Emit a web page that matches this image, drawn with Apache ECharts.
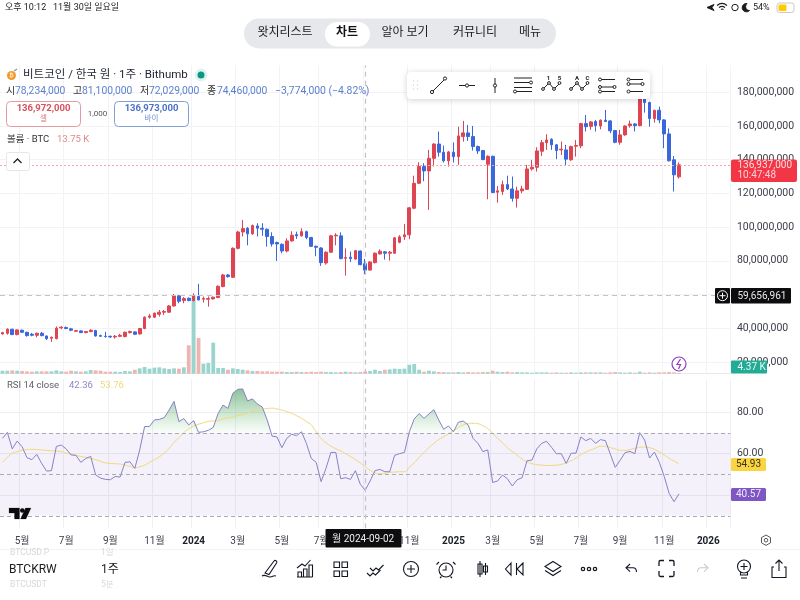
<!DOCTYPE html>
<html>
<head>
<meta charset="utf-8">
<title>BTCKRW</title>
<script src="https://cdn.jsdelivr.net/npm/echarts@6/dist/echarts.min.js"></script>
<style>
html,body{margin:0;padding:0;background:#fff;}
#main{width:800px;height:600px;}
</style>
</head>
<body>
<div id="main"></div>
<script>
// weekly candles, prices in million KRW
var openP = [
36.6,37.0,39.4,36.2,38.8,37.6,36.4,35.8,37.0,35.4,
34.0,33.8,40.2,40.4,39.6,38.2,38.4,37.4,38.0,38.6,
35.6,35.2,35.2,34.8,35.2,35.0,37.4,37.8,36.6,39.8,
46.5,46.5,48.3,49.5,49.5,53.2,59.2,56.4,57.8,56.4,
58.9,57.2,57.2,57.4,58.2,64.7,71.6,70.2,87.4,97.1,
99.3,96.0,100.7,99.3,98.7,94.4,90.8,89.8,85.8,91.8,
95.6,94.8,97.3,93.8,88.6,87.6,78.7,85.1,94.8,94.8,
81.5,82.1,81.0,85.8,78.234,74.5,78.9,84.1,85.3,84.5,
84.5,91.0,94.2,95.4,111.2,126.0,135.9,133.3,140.8,149.3,
144.4,139.3,144.4,141.8,153.7,155.9,153.7,147.8,145.4,137.3,
142.0,120.7,121.1,125.2,122.6,117.1,121.5,122.4,134.5,135.5,
145.0,150.1,152.1,148.8,145.8,145.8,139.9,148.0,148.2,161.4,
159.8,162.6,160.0,163.4,163.0,157.3,150.3,154.7,160.2,161.2,
160.2,179.4,173.9,164.4,169.3,163.6,155.3,139.9,129.8];
var closeP = [
37.4,39.4,36.2,39.0,37.6,35.6,35.8,37.0,35.6,33.8,
34.6,40.0,40.6,39.8,38.8,38.6,37.4,38.0,38.8,35.4,
35.2,35.0,34.8,35.2,35.8,37.6,38.0,36.4,39.8,46.5,
47.3,48.9,49.5,49.9,53.2,59.2,56.0,57.6,56.4,59.2,
56.8,57.6,57.6,58.4,64.9,71.6,70.6,87.4,97.1,99.1,
96.0,100.9,99.3,98.7,94.4,90.0,90.0,85.8,91.8,95.2,
94.8,97.3,93.8,88.6,88.0,78.9,85.1,94.8,95.2,81.3,
81.9,81.3,86.0,77.7,74.46,79.3,84.5,85.7,84.5,85.1,
93.6,94.2,95.4,111.4,126.0,135.9,133.3,140.8,149.3,144.4,
139.3,144.6,141.8,154.1,155.9,153.7,147.8,145.2,140.0,142.0,
120.5,121.5,125.2,122.6,117.1,121.5,122.6,134.5,135.5,145.2,
150.1,151.7,148.8,145.4,146.2,140.3,147.8,148.4,161.4,159.6,
162.4,160.2,163.4,162.6,157.1,150.3,154.7,160.0,161.2,160.2,
181.4,173.9,164.4,169.3,163.6,155.3,139.3,131.0,136.937];
var lowP = [
36.2,36.2,36.0,35.8,37.2,35.0,35.2,34.6,35.2,33.0,
31.9,33.4,39.4,39.4,38.2,37.9,37.1,37.0,37.6,35.0,
34.9,34.4,34.3,33.8,34.8,34.6,36.8,36.0,36.2,39.4,
45.7,46.0,46.9,47.9,49.1,52.8,54.8,54.8,56.0,55.8,
56.4,55.2,52.8,57.0,57.8,64.3,70.0,69.8,86.8,94.4,
89.2,95.4,94.4,94.8,88.4,88.4,79.9,84.4,85.0,91.3,
93.0,94.4,92.8,88.2,82.7,77.0,77.7,84.6,89.2,80.9,
71.2,79.3,80.6,77.3,72.029,74.2,78.5,83.7,80.7,80.1,
84.1,90.4,92.4,92.8,110.6,125.5,127.2,110.2,135.9,141.8,
138.3,135.9,138.3,136.9,150.7,151.1,145.4,143.4,139.8,116.5,
120.1,114.5,119.1,122.0,115.1,111.6,120.1,122.0,133.5,132.9,
142.2,145.8,145.8,140.3,142.8,136.9,139.3,141.8,146.8,156.7,
157.7,156.7,158.0,162.4,155.7,149.7,148.8,154.2,159.0,156.7,
159.8,167.9,159.6,162.0,161.6,146.8,138.9,121.1,128.8];
var highP = [
37.8,39.9,39.6,39.3,39.2,37.8,37.2,37.4,37.8,35.6,
35.0,41.0,41.2,41.0,40.2,38.9,38.7,38.3,39.4,39.0,
36.2,37.8,35.6,36.0,36.6,38.0,38.6,38.2,40.2,47.0,
48.5,49.3,50.8,50.8,53.8,60.3,59.6,58.4,58.2,60.7,
66.3,58.8,58.8,58.8,65.4,72.2,72.2,88.0,97.8,104.2,
100.0,101.5,102.3,102.3,99.2,96.9,91.4,90.3,93.4,97.5,
97.3,99.3,97.9,94.2,89.0,88.1,85.6,95.4,96.3,96.9,
87.4,85.5,86.4,86.2,81.1,79.8,85.0,86.8,85.7,85.8,
94.1,95.2,101.9,112.0,130.5,138.5,137.9,145.8,149.7,156.7,
148.4,145.2,150.3,159.6,163.0,160.6,160.0,148.4,145.8,142.6,
142.4,124.4,127.6,130.5,130.0,124.0,124.4,136.9,139.9,147.4,
151.7,155.1,152.7,149.2,150.7,148.8,148.3,151.7,161.9,166.5,
162.9,163.6,163.9,169.5,163.5,157.7,157.7,160.4,163.2,161.6,
182.5,180.0,174.4,169.6,171.5,164.0,158.6,142.2,138.3];
// volume, thousand BTC
var volumeK = [
18,18,20,18,16,14,12,14,14,14,
14,20,14,12,18,14,12,14,22,20,
18,12,12,12,10,16,14,24,32,40,
30,36,38,32,28,32,30,38,170,470,
214,60,64,186,34,34,24,32,28,24,
20,16,16,14,14,12,12,12,10,10,
12,10,10,12,10,12,10,10,8,10,
12,10,8,10,13.75,16,24,16,24,26,
30,28,30,54,58,24,12,18,14,10,
10,8,8,10,8,10,8,8,10,10,
18,12,10,12,8,10,8,8,6,8,
8,8,6,8,6,6,8,6,8,8,
8,8,8,6,8,10,8,6,8,6,
12,6,8,6,8,8,10,8,4.37];
var rsiValues = [
67.4,70.3,62.3,66.1,63.4,58.1,57.1,59.7,55.3,51.6,
51.8,63.5,64.2,62.3,59.4,59.2,55.8,57.7,58.7,49.8,
48.2,47.6,47.4,49.0,48.7,55.8,56.1,52.9,61.8,73.1,
73.2,76.3,76.6,77.4,81.1,85.3,75.5,77.0,73.9,76.0,
70.3,70.6,71.3,72.7,79.5,83.5,81.9,89.2,91.1,91.3,
85.5,86.5,84.0,82.6,76.3,68.5,68.1,62.9,67.4,69.4,
68.7,70.6,65.0,57.7,55.8,46.5,52.9,60.6,60.6,47.9,
48.4,47.6,51.8,45.2,42.36,46.8,51.8,52.4,51.3,51.3,
59.2,60.0,60.6,70.6,76.8,79.4,77.1,79.2,81.3,76.3,
71.8,73.4,70.6,75.2,75.8,73.9,67.4,65.0,61.0,61.8,
46.1,46.8,49.7,47.9,44.4,47.4,48.4,56.6,56.9,62.3,
65.0,66.0,63.1,60.0,60.0,55.3,60.2,60.3,68.1,66.3,
67.4,65.0,66.8,66.3,59.8,53.4,56.8,60.5,61.1,60.0,
70.2,66.6,57.9,60.8,55.8,49.0,40.8,36.8,40.57];
var rsiMaValues = [
55.8,58.2,60.2,61.0,61.6,62.0,62.1,62.0,61.8,61.6,
61.4,61.3,61.0,60.3,59.8,59.2,58.7,58.2,57.7,57.1,
56.3,55.6,55.3,55.2,55.0,54.5,53.9,53.2,53.7,54.5,
55.8,57.1,58.5,60.3,62.6,65.5,67.7,70.2,71.9,73.4,
74.2,75.0,75.6,75.8,76.1,76.8,77.3,77.7,78.4,79.0,
79.7,80.5,81.0,81.5,81.8,82.0,81.6,81.1,80.3,79.5,
78.4,77.1,75.5,73.9,70.6,67.4,65.3,63.7,62.4,61.3,
60.0,58.7,57.1,55.5,53.76,52.0,50.8,50.3,50.5,51.0,
51.1,51.3,51.3,53.4,55.6,58.2,60.6,62.9,65.0,66.8,
68.2,69.7,71.1,72.6,73.9,74.5,74.7,74.5,73.5,72.1,
69.8,67.4,65.3,62.9,61.1,59.2,57.4,56.1,55.2,54.7,
54.5,54.3,54.3,54.5,54.8,55.6,56.6,57.9,59.5,60.8,
61.8,62.7,63.6,63.6,62.9,62.3,61.6,61.6,62.0,62.6,
63.1,63.2,62.9,62.1,60.8,59.4,57.7,56.5,54.93];

var priceTicks = [20,40,60,80,100,120,140,160,180];
var rsiTicks = [40,60,80];
var rsiLevels = [70,50,30];
var lastPrice = 136.937;
var crossPrice = 59.656961;
var crossDate = '2024-09-02';
var tickDates = ['2023-05-01','2023-07-03','2023-09-04','2023-11-06','2024-01-01','2024-03-04','2024-05-06','2024-07-01','2024-09-02','2024-11-04','2025-01-06','2025-03-03','2025-05-05','2025-07-07','2025-09-01','2025-11-03','2026-01-05'];
var tickLabels = ['5월','7월','9월','11월','2024','3월','5월','7월','9월','11월','2025','3월','5월','7월','9월','11월','2026'];

// week axis, runs on past the last candle
var weeks = [];
for (var w = 0; w < 149; w++) {
	weeks.push(new Date(Date.UTC(2023, 3, 3 + w * 7)).toISOString().slice(0, 10));
}

var FONT = 'Roboto, "Noto Sans CJK KR", sans-serif';
var UP = '#de4452', DOWN = '#3a68dc';
var GRID_LEFT = -2.66, GRID_W = 733.08;

var candleData = openP.map(function (o, i) { return [o, closeP[i], lowP[i], highP[i]]; });
var volumeData = volumeK.map(function (v, i) {
	return { value: v, itemStyle: { color: closeP[i] >= openP[i] ? '#9ad5cd' : '#f0b4b0' } };
});
var overbought = rsiValues.map(function (v) { return Math.max(v, 70); });

function isTick(index, value) { return tickDates.indexOf(value) >= 0; }

function dashLine(color, width, dash) {
	return { color: color, width: width, type: dash };
}

// ---- overlay helpers ----
var g = [];
var iconCount = 0;
function T(x, y, text, size, color, extra) {
	var st = { text: text, fontSize: size, fill: color, fontFamily: FONT, align: 'left', verticalAlign: 'middle' };
	for (var k in (extra || {})) st[k] = extra[k];
	g.push({ type: 'text', x: x, y: y, z: 120, silent: true, style: st });
}
function R(x, y, w, h, r, fill, stroke, z, extra) {
	var st = { fill: fill, stroke: stroke || null, lineWidth: 1 };
	for (var k in (extra || {})) st[k] = extra[k];
	g.push({ type: 'rect', z: z || 110, silent: true, shape: { x: x, y: y, width: w, height: h, r: r }, style: st });
}
// graphic has no plain path type, so each icon gets its own registered shape
function P(d, stroke, lw, fill) {
	var name = 'icon' + (iconCount++);
	echarts.graphic.registerShape(name, echarts.graphic.extendPath(d, {}));
	g.push({ type: name, z: 120, silent: true, style: { fill: fill || 'none', stroke: stroke || '#131722', lineWidth: lw || 1.1 } });
}
function C(x, y, r, fill, stroke, lw) {
	g.push({ type: 'circle', z: 120, silent: true, shape: { cx: x, cy: y, r: r }, style: { fill: fill, stroke: stroke || null, lineWidth: lw || 1 } });
}

// status bar
T(5, 7.5, '오후 10:12', 9, '#1c1c1e');
T(53, 7.5, '11월 30일 일요일', 9, '#1c1c1e');
P('M707 7.5l7-3-2 3 2 3z', '#1c1c1e', 1, '#1c1c1e');
P('M717 5.5c3-2.5 7-2.5 10 0M719 7.5c2-1.5 4-1.5 6 0M721 9.5c1-.8 1.5-.8 2.5 0', '#1c1c1e', 1.2);
C(735, 7.5, 3.2, 'none', '#1c1c1e', 1);
P('M747 3.5a4.2 4.2 0 1 0 2.5 7 4 4 0 0 1-2.5-7z', '#1c1c1e', 1, '#1c1c1e');
T(753, 7.5, '54%', 9, '#1c1c1e');
R(777, 3, 17, 9.5, 2.5, 'none', '#c9c9c9', 120);
R(778.5, 4.5, 8, 6.5, 1.2, '#ffcc00', null, 121);

// top nav pill
R(244, 18.5, 312, 30, 15, '#e6e8eb', null, 105);
R(325, 22, 45, 24.5, 12, '#ffffff', null, 106);
T(285, 33, '왓치리스트', 12, '#1c1c1e', { align: 'center' });
T(347, 33, '차트', 12, '#111', { align: 'center', fontWeight: 'bold' });
T(405, 33, '알아 보기', 12, '#1c1c1e', { align: 'center' });
T(475, 33, '커뮤니티', 12, '#1c1c1e', { align: 'center' });
T(530, 33, '메뉴', 12, '#1c1c1e', { align: 'center' });

// symbol legend
C(11.5, 75.5, 4.5, '#f39a2b');
T(11.5, 75.5, '₿', 6, '#fff', { align: 'center' });
P('M14 71l3-2', '#8a8f9c', 1.2);
T(23, 75, '비트코인 / 한국 원 · 1주 · Bithumb', 11.5, '#1f2330');
C(201, 75, 6.5, '#dff3ef');
C(201, 75, 3.5, '#089981');
var OHLC_BLUE = '#5b7fd0';
T(6, 91.5, '시', 10, '#333');
T(15, 91.5, '78,234,000', 10.3, OHLC_BLUE);
T(73, 91.5, '고', 10, '#333');
T(82, 91.5, '81,100,000', 10.3, OHLC_BLUE);
T(140, 91.5, '저', 10, '#333');
T(149, 91.5, '72,029,000', 10.3, OHLC_BLUE);
T(207, 91.5, '종', 10, '#333');
T(217, 91.5, '74,460,000', 10.3, OHLC_BLUE);
T(275, 91.5, '−3,774,000 (−4.82%)', 10.4, OHLC_BLUE);
R(6.5, 101.5, 74, 25, 4, '#fff', '#e59aa2');
T(43.5, 108.5, '136,972,000', 9.5, '#d9505c', { align: 'center', fontWeight: 'bold' });
T(43.5, 119.5, '셀', 7.5, '#e0737c', { align: 'center' });
T(97.5, 114, '1,000', 8, '#555', { align: 'center' });
R(114.5, 101.5, 74, 25, 4, '#fff', '#7f9fd6');
T(151.5, 108.5, '136,973,000', 9.5, '#4a72c8', { align: 'center', fontWeight: 'bold' });
T(151.5, 119.5, '바이', 7.5, '#6f92d4', { align: 'center' });
T(7, 139.5, '볼륨 · BTC', 9.5, '#333');
T(57, 139.5, '13.75 K', 9.5, '#e08a8a');
R(6.5, 152.5, 23, 18, 2, '#fff', '#e4e6ea');
P('M13.5 163l4-4 4 4', '#222', 1.3);

// drawing toolbar
R(407, 72, 243, 27, 4, '#ffffff', null, 115, { shadowBlur: 6, shadowColor: 'rgba(0,0,0,.18)', shadowOffsetY: 1 });
P('M413 81h.6M417 81h.6M413 85h.6M417 85h.6M413 89h.6M417 89h.6', '#9aa0ac', 1);
P('M433 91l11-11', '#222', 1);
C(432, 92, 1.6, '#fff', '#222'); C(445, 78.5, 1.6, '#fff', '#222');
P('M459 85.5h16', '#222', 1);
C(467, 85.5, 1.6, '#fff', '#222');
P('M495 78v15', '#222', 1);
C(495, 85.5, 1.6, '#fff', '#222');
P('M514 78h18M514 82.5h15M514 87.5h18M516 91.5h16', '#222', 1);
C(531, 82.5, 1.5, '#fff', '#222'); C(515, 91.5, 1.5, '#fff', '#222');
P('M543 89l6-6 5 6 6-6', '#222', 1);
C(543, 89, 1.4, '#fff', '#222'); C(549, 83, 1.4, '#fff', '#222'); C(554, 89, 1.4, '#fff', '#222'); C(559.5, 83, 1.4, '#fff', '#222');
T(548.5, 78, '1', 6, '#222', { align: 'center', fontWeight: 'bold' });
T(559.5, 78, '5', 6, '#222', { align: 'center', fontWeight: 'bold' });
P('M571 89l6-6 5 6 6-6', '#222', 1);
C(571, 89, 1.4, '#fff', '#222'); C(577, 83, 1.4, '#fff', '#222'); C(582, 89, 1.4, '#fff', '#222'); C(587.5, 83, 1.4, '#fff', '#222');
T(577, 78, 'A', 6, '#222', { align: 'center', fontWeight: 'bold' });
T(587.5, 78, 'C', 6, '#222', { align: 'center', fontWeight: 'bold' });
P('M600 79.5h15M600 87h15M600 91.5h15', '#222', 1);
C(600, 79.5, 1.5, '#fff', '#222'); C(600, 87, 1.5, '#fff', '#222'); C(600, 91.5, 1.5, '#fff', '#222'); C(614.5, 87, 1.5, '#fff', '#222');
P('M629 79.5h14M629 84h14M629 91.5h14', '#222', 1);
C(628.5, 79.5, 1.5, '#fff', '#222'); C(628.5, 84, 1.5, '#fff', '#222'); C(628.5, 91.5, 1.5, '#fff', '#222'); C(642.5, 84, 1.5, '#fff', '#222');

// price tags
R(731, 159.5, 66, 22.5, 2, '#f23645');
T(737.5, 165.5, '136,937,000', 10, '#ffdfe2');
T(737.5, 175.5, '10:47:48', 10, '#ffd0d4');
R(715, 288, 15, 15.5, 1, '#0d0d0f');
P('M727.5 295.7a5 5 0 1 1-10 0a5 5 0 1 1 10 0M722.5 292.7v6M719.5 295.7h6', '#fff', 1);
R(731, 288, 60, 15.5, 1, '#0d0d0f');
T(737.5, 296, '59,656,961', 10, '#e8e8e8');
C(679, 364, 7, '#fff', '#8e3fbf', 1.2);
P('M680.5 359l-3.5 5.5h3.5l-2 4.5', '#8e3fbf', 1.2);
R(731, 360.5, 36, 13, 1, '#23ab95');
T(737.5, 367.2, '4.37 K', 10, '#e9fbf7');
T(7, 386, 'RSI 14 close', 9.5, '#5d606b');
T(69, 386, '42.36', 9.5, '#8a86c8');
T(100, 386, '53.76', 9.5, '#efd97c');
R(731, 458, 35, 13, 1.5, '#fbd441');
T(748.5, 464.7, '54.93', 10, '#3a3216', { align: 'center' });
R(731, 488, 35, 13, 1.5, '#7e57c2');
T(748.5, 494.7, '40.57', 10, '#f0eafc', { align: 'center' });

// tv logo
P('M9 508h10.5v11h-5v-6h-5.5z', '#0b0b0d', 0.2, '#0b0b0d');
C(22.3, 510.5, 2.3, '#0b0b0d');
P('M25.5 508h5.5l-5 11h-5.5z', '#0b0b0d', 0.2, '#0b0b0d');

// crosshair date + time settings
R(325.5, 529, 76, 18.5, 1, '#0d0d0f');
T(332, 539, '월 2024-09-02', 10, '#eeeeee');
P('M766 535l4.5 2.6v5.2l-4.5 2.6-4.5-2.6v-5.2z', '#444', 0.9);
C(766, 540.2, 1.8, 'none', '#444', 0.9);
P('M0 549.5h800', '#eef0f3', 0.8);

// bottom bar
T(10, 553, 'BTCUSD.P', 8.5, '#d6d8dc');
T(101, 553, '1일', 8.5, '#d6d8dc');
T(9, 569.5, 'BTCKRW', 12, '#1c1c1e');
T(101, 569.5, '1주', 12, '#1c1c1e');
T(10, 585, 'BTCUSDT', 8.5, '#d6d8dc');
T(101, 585, '5분', 8.5, '#d6d8dc');
P('M262 576c3-2 5 1 8 1s3-2 6-1M265 573l9-12c1-1.5 3.5.2 2.7 1.7l-7.7 11.8z');
P('M298 577v-5h3.5v5M303.5 577v-8h3.5v8M309 577v-12h3.5v12M297 577h15.5M297 568l5-4 3 2 5.5-6');
P('M334 562h5.5v5.5h-5.5zM342 562h5.5v5.5h-5.5zM334 571h5.5v5.5h-5.5zM342 571h5.5v5.5h-5.5z');
P('M367 573l3 3 3-3 2.5 2 3-3 2-2M370 568l3 3 3-3 2.5 2 3-3 2-2');
P('M418.5 569a7.5 7.5 0 1 1-15 0a7.5 7.5 0 1 1 15 0M411 565v8M407 569h8');
P('M453 570a7 7 0 1 1-14 0a7 7 0 1 1 14 0M446 565.5v4.5h-3.5M439 562l-2.5 2.5M453 562l2.5 2.5M441.5 576.5l-1.5 1.5M450.5 576.5l1.5 1.5');
P('M480 561v16M478 564h4v10h-4zM485.5 563v12M483.5 566h4v6h-4z');
P('M511 563l-5.5 6 5.5 6zM523 563l-6 6 6 6zM516.5 563v12', '#131722', 1.1);
P('M553 561.5l8 5-8 5-8-5zM545 570.5l8 5 8-5');
C(583, 569, 1.7, 'none', '#131722', 1.2); C(589, 569, 1.7, 'none', '#131722', 1.2); C(595, 569, 1.7, 'none', '#131722', 1.2);
P('M630 564l-4 3.8 4 3.8M626 567.8h7c2 0 3.5 1.5 3.5 4.2');
P('M659 566v-4c0-1 1-1.5 1.5-1.5h3.5M669 560.5h3.5c1 0 1.5.5 1.5 1.5v4M674 571v4c0 1-.5 1.5-1.5 1.5h-3.5M664 576.5h-3.5c-.5 0-1.5-.5-1.5-1.5v-4', '#131722', 1.3);
P('M704 564l4 3.8-4 3.8M708 567.8h-7c-2 0-3.5 1.5-3.5 4.2', '#c8cbd0');
P('M750.5 566.5a6.5 6.5 0 1 1-13 0a6.5 6.5 0 0 1 13 0M744 563v7M740.5 566.5h7M740.5 572v3h7v-3M741 578h6');
P('M774 567h-2v10.5h14v-10.5h-2M779 571v-11M775.5 563.5l3.5-3.5 3.5 3.5');

// ---- chart ----
var ChartMain = echarts.init(document.getElementById('main'));
ChartMain.setOption({
	animation: false,
	backgroundColor: '#ffffff',
	textStyle: { fontFamily: FONT },
	grid: [
		{ left: GRID_LEFT, width: GRID_W, top: 65.3, height: 308.4 },
		{ left: GRID_LEFT, width: GRID_W, top: 200, height: 173.7 },
		{ left: GRID_LEFT, width: GRID_W, top: 379.2, height: 149 }
	],
	xAxis: [
		{
			type: 'category', gridIndex: 0, data: weeks, boundaryGap: true,
			axisLine: { lineStyle: { color: '#e6e8ec' } }, axisTick: { show: false }, axisLabel: { show: false },
			splitLine: { show: true, interval: isTick, lineStyle: { color: '#f2f3f6' } }
		},
		{
			type: 'category', gridIndex: 1, data: weeks, boundaryGap: true,
			axisLine: { show: false }, axisTick: { show: false }, axisLabel: { show: false }, splitLine: { show: false }
		},
		{
			type: 'category', gridIndex: 2, data: weeks, boundaryGap: true,
			axisLine: { show: false }, axisTick: { show: false },
			splitLine: { show: true, interval: isTick, lineStyle: { color: '#eef0f4' } },
			axisLabel: {
				show: true, interval: isTick, margin: 8.5, hideOverlap: false,
				formatter: function (value) {
					var label = tickLabels[tickDates.indexOf(value)];
					return label.length === 4 ? '{year|' + label + '}' : '{month|' + label + '}';
				},
				rich: {
					year: { fontSize: 10, fontWeight: 'bold', color: '#1c1f28', fontFamily: FONT },
					month: { fontSize: 10, color: '#3c3f4a', fontFamily: FONT }
				}
			}
		}
	],
	yAxis: [
		{
			type: 'value', gridIndex: 0, position: 'right', min: 13, max: 196, scale: true,
			axisLine: { show: false },
			axisTick: { show: false, customValues: priceTicks },
			splitLine: { show: true, lineStyle: { color: '#f2f3f6' } },
			axisLabel: {
				customValues: priceTicks, margin: 6.5, fontSize: 10.5, color: '#3a3d47', align: 'left', fontFamily: FONT,
				formatter: function (v) { return v + ',000,000'; }
			}
		},
		{
			type: 'value', gridIndex: 1, min: 0, max: 1040, show: false, splitLine: { show: false }
		},
		{
			type: 'value', gridIndex: 2, position: 'right', min: 24, max: 96,
			axisLine: { show: false },
			axisTick: { show: false, customValues: rsiTicks },
			splitLine: { show: true, lineStyle: { color: '#eceef2' } },
			axisLabel: {
				customValues: rsiTicks, margin: 6.5, fontSize: 10.5, color: '#3a3d47', align: 'left', fontFamily: FONT,
				formatter: function (v) { return v.toFixed(2); }
			}
		}
	],
	series: [
		{
			name: '볼륨', type: 'bar', xAxisIndex: 1, yAxisIndex: 1, barWidth: 3.8, z: 1,
			data: volumeData
		},
		{
			name: 'BTCKRW', type: 'candlestick', xAxisIndex: 0, yAxisIndex: 0, barWidth: 3.2, z: 3,
			data: candleData,
			itemStyle: { color: UP, color0: DOWN, borderColor: UP, borderColor0: DOWN, borderWidth: 1 },
			markLine: {
				silent: true, symbol: 'none', label: { show: false }, animation: false,
				data: [
					{ yAxis: lastPrice, lineStyle: dashLine('#f4a3aa', 1, [2, 2]) },
					{ yAxis: crossPrice, lineStyle: dashLine('#c2c4ca', 1, [5, 4]) },
					{ xAxis: crossDate, lineStyle: dashLine('#c2c4ca', 1.2, [5, 4]) }
				]
			}
		},
		{
			// green fill above the 70 line
			name: 'RSI 70+', type: 'line', xAxisIndex: 2, yAxisIndex: 2, data: overbought, z: 2,
			symbol: 'none', lineStyle: { opacity: 0, width: 0 }, silent: true,
			areaStyle: {
				origin: 70,
				color: { type: 'linear', x: 0, y: 0, x2: 0, y2: 1, colorStops: [
					{ offset: 0, color: 'rgba(46,140,70,.78)' },
					{ offset: 1, color: 'rgba(76,175,80,.03)' }
				] }
			}
		},
		{
			name: 'RSI', type: 'line', xAxisIndex: 2, yAxisIndex: 2, data: rsiValues, z: 4,
			symbol: 'none', lineStyle: { color: '#8782c8', width: 1 },
			markArea: {
				silent: true, itemStyle: { color: 'rgba(126,87,194,.085)' },
				data: [[{ yAxis: rsiLevels[2] }, { yAxis: rsiLevels[0] }]]
			},
			markLine: {
				silent: true, symbol: 'none', label: { show: false }, animation: false,
				data: [
					{ yAxis: rsiLevels[0], lineStyle: dashLine('#a9aab2', 1, [4, 3]) },
					{ yAxis: rsiLevels[1], lineStyle: dashLine('#a9aab2', 1, [4, 3]) },
					{ yAxis: rsiLevels[2], lineStyle: dashLine('#a9aab2', 1, [4, 3]) },
					{ xAxis: crossDate, lineStyle: dashLine('#c2c4ca', 1.2, [5, 4]) }
				]
			}
		},
		{
			name: 'RSI MA', type: 'line', xAxisIndex: 2, yAxisIndex: 2, data: rsiMaValues, z: 3,
			symbol: 'none', smooth: true, lineStyle: { color: '#f0d878', width: 1 }
		}
	],
	graphic: { elements: g }
});
</script>
</body>
</html>
